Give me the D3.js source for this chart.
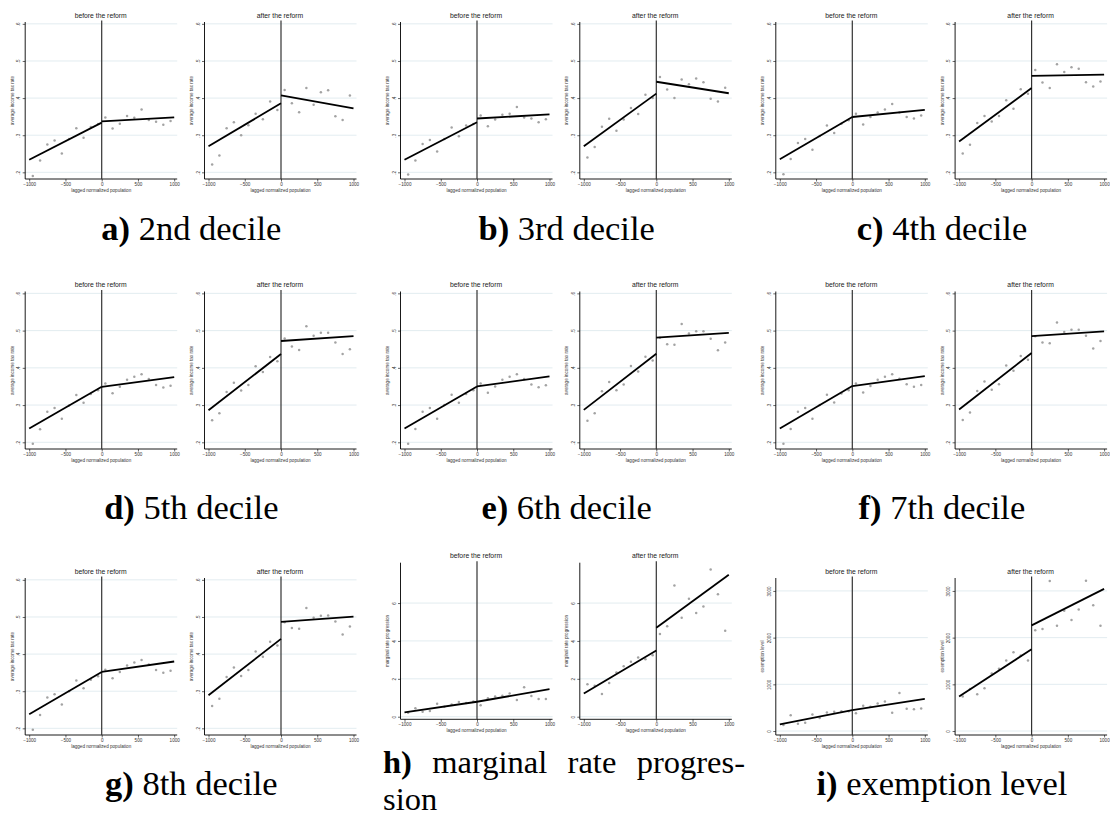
<!DOCTYPE html>
<html><head><meta charset="utf-8">
<script src="https://cdnjs.cloudflare.com/ajax/libs/d3/7.8.5/d3.min.js"></script>
<style>body{margin:0;background:#fff}</style></head>
<body><svg id="c" width="1110" height="819"></svg>
<script>
// ---------- data ----------
const xBins = [-950,-850,-750,-650,-550,-450,-350,-250,-150,-50,50,150,250,350,450,550,650,750,850,950];
const xTicks = [-1000,-500,0,500,1000];
const taxTicks = [0.2,0.3,0.4,0.5,0.6];
const taxTickLabels = [".2",".3",".4",".5",".6"];
const mrpTicks = [0,2,4,6];
const mrpTickLabels = ["0","2","4","6"];
const exTicks = [0,1000,2000,3000];
const exTickLabels = ["0","1000","2000","3000"];
const subTitles = ["before the reform","after the reform"];
const yTitles = ["average income tax rate","marginal rate progression","exemption level"];
const xTitle = "lagged normalized population";
const captionLetters = ["a)","b)","c)","d)","e)","f)","g)","h)","i)"];
const captionTexts = ["2nd decile","3rd decile","4th decile","5th decile","6th decile","7th decile","8th decile","marginal rate progression","exemption level"];

// fit endpoints: [left at -1000, left at 0, right at 0, right at 1000]
const d2Before = [.19,.232,.275,.286,.251,.29,.319,.293,.322,.33,.348,.318,.331,.352,.347,.369,.341,.336,.328,.338];
const d2BeforeFit = [.234,.334,.337,.348];
const d2After = [.221,.245,.319,.335,.300,.327,.358,.343,.391,.368,.422,.386,.362,.427,.382,.416,.421,.351,.341,.407];
const d2AfterFit = [.27,.386,.407,.372];

const d3Before = [.194,.232,.276,.287,.256,.29,.321,.297,.326,.33,.353,.324,.342,.355,.358,.376,.348,.345,.335,.343];
const d3BeforeFit = [.234,.335,.345,.356];
const d3After = [.240,.268,.323,.344,.312,.342,.373,.357,.409,.400,.457,.423,.400,.450,.437,.453,.443,.398,.391,.428];
const d3AfterFit = [.27,.412,.444,.413];

const d4Before = [.195,.236,.279,.290,.261,.298,.326,.306,.331,.34,.358,.329,.349,.361,.369,.384,.361,.349,.345,.353];
const d4BeforeFit = [.235,.349,.349,.368];
const d4After = [.251,.274,.333,.352,.337,.352,.394,.371,.424,.412,.476,.442,.427,.491,.470,.483,.479,.443,.431,.445];
const d4AfterFit = [.283,.427,.460,.463];

const d5Before = [.196,.235,.282,.292,.263,.299,.327,.306,.33,.34,.358,.332,.349,.368,.376,.383,.370,.354,.347,.352];
const d5BeforeFit = [.237,.349,.349,.375];
const d5After = [.259,.278,.335,.360,.339,.354,.404,.389,.429,.418,.479,.457,.448,.512,.486,.494,.494,.468,.437,.450];
const d5AfterFit = [.286,.437,.472,.485];

const d6Before = [.196,.236,.282,.292,.263,.30,.328,.306,.33,.34,.358,.333,.350,.368,.376,.383,.370,.355,.348,.353];
const d6BeforeFit = [.237,.350,.350,.377];
const d6After = [.258,.278,.337,.362,.340,.355,.405,.390,.430,.420,.481,.463,.462,.518,.492,.498,.498,.478,.447,.468];
const d6AfterFit = [.287,.438,.481,.494];

const d7Before = [.196,.236,.282,.292,.263,.30,.328,.307,.331,.34,.358,.334,.351,.368,.376,.383,.371,.356,.349,.354];
const d7BeforeFit = [.237,.351,.351,.378];
const d7After = [.260,.280,.338,.363,.341,.356,.406,.392,.432,.422,.485,.468,.466,.522,.496,.502,.502,.486,.452,.472];
const d7AfterFit = [.288,.440,.485,.498];

const d8Before = [.196,.236,.283,.292,.264,.30,.329,.308,.331,.34,.358,.335,.352,.369,.377,.384,.372,.357,.350,.355];
const d8BeforeFit = [.238,.352,.352,.380];
const d8After = [.260,.280,.338,.364,.341,.357,.407,.393,.433,.423,.486,.470,.468,.524,.498,.503,.504,.488,.453,.474];
const d8AfterFit = [.289,.441,.487,.501];

const mrpBefore = [.21,.44,.26,.30,.69,.53,.65,.77,.72,.8,.60,.97,1.07,1.11,1.23,.88,1.55,1.09,.93,.93];
const mrpBeforeFit = [.23,.79,.79,1.46];
const mrpAfter = [1.71,1.64,1.20,1.78,2.34,2.66,2.90,3.13,3.03,3.24,4.36,4.78,6.93,5.22,6.23,5.47,5.82,7.77,6.47,4.54];
const mrpAfterFit = [1.23,3.50,4.70,7.49];

const exBefore = [128,340,156,177,355,277,397,411,425,425,383,539,518,589,631,390,816,475,468,482];
const exBeforeFit = [142,447,447,688];
const exAfter = [738,900,787,915,1234,1333,1511,1688,1617,1511,2156,2184,3213,2255,2574,2376,2603,3220,2695,2255];
const exAfterFit = [738,1752,2262,3043];

// ---------- layout ----------
const svg = d3.select("#c");
const colX0 = [101.7, 477, 852.3];
const secondOffset = 179.3;
const rowBox = [[22,179],[291.5,449],[578,735]];
const hBox = [562.7,719.3];
const captionBase = [240, 519, 795];

const taxDomain = [.182,.605];
const panels = [
  {b:d2Before,bf:d2BeforeFit,a:d2After,af:d2AfterFit},
  {b:d3Before,bf:d3BeforeFit,a:d3After,af:d3AfterFit},
  {b:d4Before,bf:d4BeforeFit,a:d4After,af:d4AfterFit},
  {b:d5Before,bf:d5BeforeFit,a:d5After,af:d5AfterFit},
  {b:d6Before,bf:d6BeforeFit,a:d6After,af:d6AfterFit},
  {b:d7Before,bf:d7BeforeFit,a:d7After,af:d7AfterFit},
  {b:d8Before,bf:d8BeforeFit,a:d8After,af:d8AfterFit},
  {b:mrpBefore,bf:mrpBeforeFit,a:mrpAfter,af:mrpAfterFit},
  {b:exBefore,bf:exBeforeFit,a:exAfter,af:exAfterFit}
];
panels.forEach((p,i)=>{
  if(i<7){p.dom=taxDomain;p.ticks=taxTicks;p.labels=taxTickLabels;p.yt=yTitles[0];}
  else if(i===7){p.dom=[-0.137,8.13];p.ticks=mrpTicks;p.labels=mrpTickLabels;p.yt=yTitles[1];}
  else {p.dom=[-85,3277];p.ticks=exTicks;p.labels=exTickLabels;p.yt=yTitles[2];}
});

const sans = "Liberation Sans, Arial, sans-serif";

function subplot(x0, box, p, vals, fit, title){
  const g = svg.append("g");
  const x = d3.scaleLinear().domain([-1000,1000]).range([x0-72.5, x0+72.5]);
  const y = d3.scaleLinear().domain(p.dom).range([box[1], box[0]]);
  const L = x(-1000)-4, R = x(1000)+3;
  g.selectAll(".grid").data(p.ticks).join("line")
    .attr("x1",L).attr("x2",R).attr("y1",d=>y(d)).attr("y2",d=>y(d))
    .attr("stroke","#dfeaee").attr("stroke-width",0.9);
  const ya = g.append("g").attr("transform",`translate(${L},0)`)
    .call(d3.axisLeft(y).tickValues(p.ticks).tickFormat((d,i)=>p.labels[i]).tickSize(2.5));
  ya.select(".domain").remove();
  ya.selectAll(".tick line").attr("stroke","#000").attr("stroke-width",0.6);
  ya.selectAll(".tick text").attr("x",0).attr("dy",0)
    .attr("transform","translate(-5,0) rotate(-90)").attr("text-anchor","middle")
    .attr("font-family",sans).attr("font-size",4.6).attr("fill","#333");
  const xa = g.append("g").attr("transform",`translate(0,${box[1]})`)
    .call(d3.axisBottom(x).tickValues(xTicks).tickFormat(d=>d<0?"\u2212"+Math.abs(d):d).tickSize(2.5));
  xa.select(".domain").remove();
  xa.selectAll(".tick line").attr("stroke","#000").attr("stroke-width",0.6);
  xa.selectAll(".tick text").attr("y",3.6).attr("dy","0.71em")
    .attr("font-family",sans).attr("font-size",4.6).attr("fill","#333");
  g.append("line").attr("x1",L).attr("x2",L).attr("y1",box[0]).attr("y2",box[1]).attr("stroke","#000").attr("stroke-width",0.9);
  g.append("line").attr("x1",L).attr("x2",R).attr("y1",box[1]).attr("y2",box[1]).attr("stroke","#000").attr("stroke-width",0.9);
  g.append("text").attr("x",(L+R)/2).attr("y",box[1]+12.5).attr("text-anchor","middle")
    .attr("font-family",sans).attr("font-size",4.6).attr("fill","#333").text(xTitle);
  g.append("text").attr("transform",`translate(${L-11.5},${(box[0]+box[1])/2}) rotate(-90)`)
    .attr("text-anchor","middle").attr("font-family",sans).attr("font-size",4.6).attr("fill","#333").text(p.yt);
  g.append("text").attr("x",x(0)-1).attr("y",box[0]-4.5).attr("text-anchor","middle")
    .attr("font-family",sans).attr("font-size",6.8).attr("fill","#222").text(title);
  g.append("line").attr("x1",x(0)).attr("x2",x(0)).attr("y1",box[0]-1.5).attr("y2",box[1])
    .attr("stroke","#333").attr("stroke-width",1.2);
  g.selectAll(".pt").data(vals).join("circle")
    .attr("cx",(d,i)=>x(xBins[i])).attr("cy",d=>y(d)).attr("r",1.25).attr("fill","#a3a3a3");
  const line = d3.line().x(d=>x(d[0])).y(d=>y(d[1]));
  g.append("path").attr("d",line([[-1000,fit[0]],[0,fit[1]]])).attr("stroke","#000").attr("stroke-width",1.8).attr("fill","none");
  g.append("path").attr("d",line([[0,fit[2]],[1000,fit[3]]])).attr("stroke","#000").attr("stroke-width",1.8).attr("fill","none");
}

panels.forEach((p,i)=>{
  const r = Math.floor(i/3), c = i%3;
  const box = i===7 ? hBox : rowBox[r];
  subplot(colX0[c], box, p, p.b, p.bf, subTitles[0]);
  subplot(colX0[c]+secondOffset, box, p, p.a, p.af, subTitles[1]);
});

// captions
const serif = "Liberation Serif, 'Times New Roman', serif";
const capSize = 34.5;
panels.forEach((p,i)=>{
  const r = Math.floor(i/3), c = i%3;
  const cx = colX0[c] + secondOffset/2;
  if(i===7){
    const left = 383, right = 745, yb = 773, hSize = 32.5;
    const pieces = [{t:captionLetters[i],b:true},{t:"marginal"},{t:"rate"},{t:"progres-"}];
    const nodes = pieces.map(pc=>svg.append("text").attr("y",yb).attr("font-family",serif)
      .attr("font-size",hSize).attr("font-weight",pc.b?"bold":"normal").text(pc.t));
    const widths = nodes.map(n=>n.node().getComputedTextLength());
    const gap = (right-left-d3.sum(widths))/(pieces.length-1);
    let xx = left;
    nodes.forEach((n,k)=>{n.attr("x",xx); xx += widths[k]+gap;});
    svg.append("text").attr("font-family",serif).attr("font-size",hSize).attr("x",left).attr("y",810).text("sion");
  } else {
    const t = svg.append("text").attr("x",cx).attr("y",captionBase[r]).attr("text-anchor","middle")
      .attr("font-family",serif).attr("font-size",capSize).attr("fill","#000");
    t.append("tspan").attr("font-weight","bold").text(captionLetters[i]);
    t.append("tspan").text(" "+captionTexts[i]);
  }
});
</script></body></html>
